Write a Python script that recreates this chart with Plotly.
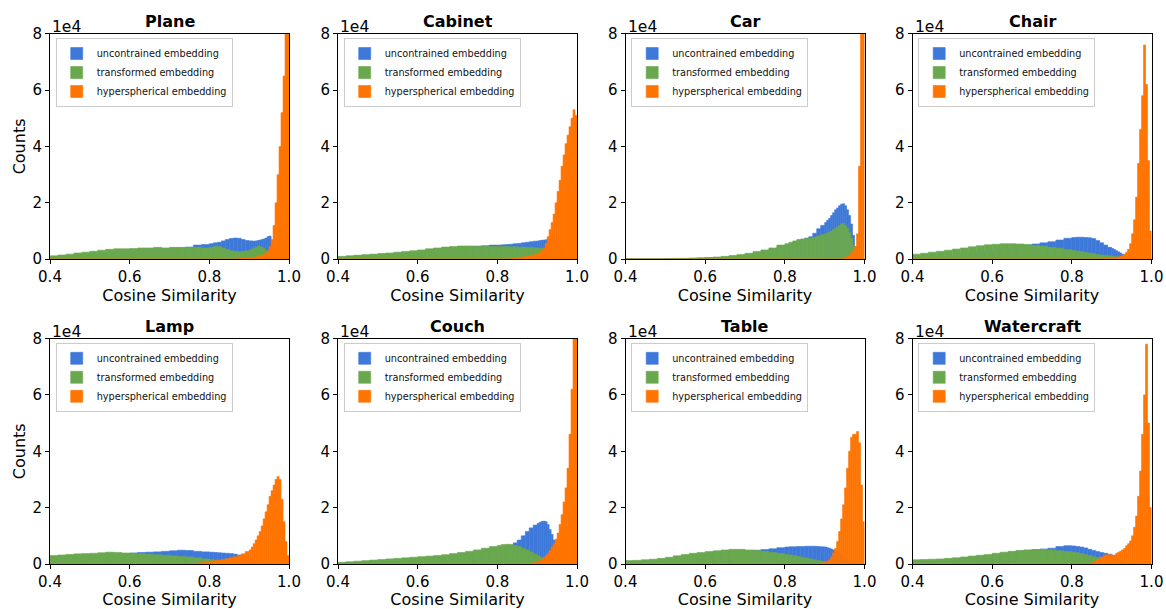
import numpy as np
import plotly.graph_objects as go

# Histogram bin edges (cosine similarity)
BIN_EDGES = [0.40, 0.42, 0.44, 0.46, 0.48, 0.50, 0.52, 0.54, 0.56, 0.58,
             0.60, 0.62, 0.64, 0.66, 0.68, 0.70, 0.72, 0.74, 0.76, 0.78,
             0.80, 0.81, 0.82, 0.83, 0.84, 0.85, 0.86, 0.87, 0.88, 0.89,
             0.90, 0.905, 0.91, 0.915, 0.92, 0.925, 0.93, 0.935, 0.94, 0.945,
             0.95, 0.955, 0.96, 0.965, 0.97, 0.975, 0.98, 0.985, 0.99, 0.995, 1.00]

CATEGORIES = ["Plane", "Cabinet", "Car", "Chair", "Lamp", "Couch", "Table", "Watercraft"]
SERIES_NAMES = ["uncontrained embedding", "transformed embedding", "hyperspherical embedding"]

# Counts in units of 1e4
PLANE_BLUE = [0.08, 0.10, 0.12, 0.15, 0.18, 0.20, 0.22, 0.25, 0.27, 0.30, 0.32, 0.33, 0.35, 0.36, 0.38, 0.39, 0.40, 0.43, 0.50, 0.52,
              0.55, 0.58, 0.60, 0.65, 0.70, 0.73, 0.75, 0.74, 0.70, 0.66,
              0.65, 0.65, 0.64, 0.65, 0.66, 0.68, 0.70, 0.72, 0.75, 0.80, 0.82, 0.60, 0.40, 0.30, 0.20, 0.10, 0.05, 0.02, 0.01, 0.00]
PLANE_GREEN = [0.12, 0.15, 0.18, 0.22, 0.25, 0.28, 0.32, 0.35, 0.37, 0.37, 0.38, 0.40, 0.40, 0.42, 0.40, 0.42, 0.42, 0.42, 0.42, 0.40,
               0.42, 0.45, 0.45, 0.40, 0.35, 0.30, 0.28, 0.27, 0.28, 0.30,
               0.33, 0.36, 0.40, 0.43, 0.45, 0.45, 0.42, 0.38, 0.30, 0.22, 0.15, 0.10, 0.07, 0.05, 0.03, 0.02, 0.01, 0.01, 0.00, 0.00]
PLANE_ORANGE = [0, 0, 0, 0, 0, 0, 0, 0, 0, 0, 0, 0, 0, 0, 0, 0, 0, 0, 0, 0,
                0, 0, 0, 0, 0, 0, 0.01, 0.02, 0.03, 0.04,
                0.05, 0.06, 0.07, 0.08, 0.10, 0.12, 0.15, 0.18, 0.22, 0.30, 0.45, 0.70, 1.20, 2.00, 3.00, 4.00, 5.20, 6.50, 8.50, 9.50]

CABINET_BLUE = [0.08, 0.10, 0.12, 0.14, 0.16, 0.18, 0.20, 0.22, 0.24, 0.27, 0.30, 0.33, 0.36, 0.39, 0.41, 0.43, 0.45, 0.46, 0.48, 0.50,
                0.50, 0.51, 0.52, 0.53, 0.55, 0.56, 0.58, 0.60, 0.62, 0.64,
                0.65, 0.66, 0.67, 0.68, 0.69, 0.70, 0.71, 0.72, 0.72, 0.70, 0.65, 0.55, 0.45, 0.35, 0.25, 0.15, 0.10, 0.05, 0.02, 0.00]
CABINET_GREEN = [0.10, 0.12, 0.14, 0.16, 0.18, 0.20, 0.22, 0.25, 0.27, 0.30, 0.33, 0.37, 0.40, 0.43, 0.45, 0.47, 0.47, 0.46, 0.45, 0.45,
                 0.45, 0.45, 0.45, 0.44, 0.44, 0.43, 0.43, 0.42, 0.42, 0.41,
                 0.40, 0.40, 0.39, 0.38, 0.37, 0.35, 0.33, 0.30, 0.27, 0.24, 0.20, 0.17, 0.14, 0.10, 0.08, 0.05, 0.03, 0.02, 0.01, 0.00]
CABINET_ORANGE = [0, 0, 0, 0, 0, 0, 0, 0, 0, 0, 0, 0, 0, 0, 0, 0, 0, 0, 0, 0,
                  0, 0, 0.01, 0.02, 0.04, 0.06, 0.08, 0.10, 0.13, 0.17,
                  0.20, 0.25, 0.30, 0.40, 0.55, 0.80, 1.05, 1.30, 1.60, 2.00, 2.40, 2.80, 3.30, 3.70, 4.10, 4.40, 4.70, 5.00, 5.30, 5.10]

CAR_BLUE = [0.01, 0.01, 0.01, 0.01, 0.01, 0.02, 0.02, 0.02, 0.03, 0.04, 0.05, 0.06, 0.08, 0.10, 0.13, 0.17, 0.22, 0.28, 0.35, 0.43,
            0.50, 0.55, 0.60, 0.65, 0.70, 0.75, 0.80, 0.92, 1.08, 1.20,
            1.30, 1.38, 1.45, 1.55, 1.65, 1.75, 1.82, 1.90, 1.95, 1.97, 1.90, 1.75, 1.55, 1.25, 0.85, 0.45, 0.15, 0.05, 0.02, 0.00]
CAR_GREEN = [0.02, 0.02, 0.02, 0.02, 0.02, 0.02, 0.03, 0.03, 0.04, 0.05, 0.06, 0.08, 0.10, 0.13, 0.17, 0.21, 0.27, 0.33, 0.40, 0.50,
             0.55, 0.60, 0.65, 0.70, 0.72, 0.73, 0.75, 0.78, 0.82, 0.87,
             0.90, 0.93, 0.97, 1.00, 1.05, 1.10, 1.15, 1.20, 1.25, 1.27, 1.20, 1.10, 0.95, 0.75, 0.50, 0.30, 0.12, 0.05, 0.02, 0.00]
CAR_ORANGE = [0, 0, 0, 0, 0, 0, 0, 0, 0, 0, 0, 0, 0, 0, 0, 0, 0, 0, 0, 0,
              0, 0, 0, 0, 0, 0, 0, 0, 0, 0,
              0, 0, 0, 0, 0, 0, 0, 0, 0.01, 0.02, 0.05, 0.10, 0.15, 0.20, 0.30, 0.45, 0.90, 3.30, 9.50, 9.50]

CHAIR_BLUE = [0.05, 0.06, 0.07, 0.09, 0.11, 0.13, 0.16, 0.19, 0.23, 0.27, 0.31, 0.36, 0.41, 0.45, 0.50, 0.54, 0.58, 0.62, 0.68, 0.74,
              0.77, 0.78, 0.78, 0.77, 0.76, 0.73, 0.66, 0.58, 0.50, 0.42,
              0.38, 0.34, 0.30, 0.26, 0.22, 0.18, 0.15, 0.12, 0.10, 0.08, 0.06, 0.04, 0.03, 0.02, 0.01, 0.00, 0.00, 0.00, 0.00, 0.00]
CHAIR_GREEN = [0.18, 0.21, 0.25, 0.28, 0.32, 0.36, 0.40, 0.44, 0.48, 0.51, 0.53, 0.55, 0.55, 0.54, 0.52, 0.49, 0.46, 0.42, 0.39, 0.34,
               0.31, 0.29, 0.27, 0.24, 0.22, 0.20, 0.17, 0.15, 0.14, 0.12,
               0.11, 0.10, 0.09, 0.08, 0.07, 0.06, 0.05, 0.04, 0.03, 0.02, 0.01, 0.01, 0.00, 0.00, 0.00, 0.00, 0.00, 0.00, 0.00, 0.00]
CHAIR_ORANGE = [0, 0, 0, 0, 0, 0, 0, 0, 0, 0, 0, 0, 0, 0, 0, 0, 0, 0, 0, 0,
                0, 0, 0, 0, 0, 0.005, 0.01, 0.01, 0.02, 0.02,
                0.03, 0.04, 0.06, 0.08, 0.10, 0.13, 0.18, 0.25, 0.35, 0.55, 0.90, 1.40, 2.20, 3.40, 4.60, 5.80, 7.60, 6.20, 3.50, 1.00]

LAMP_BLUE = [0.20, 0.22, 0.24, 0.26, 0.28, 0.30, 0.31, 0.33, 0.34, 0.36, 0.39, 0.41, 0.42, 0.43, 0.45, 0.47, 0.49, 0.48, 0.45, 0.43,
             0.42, 0.41, 0.40, 0.39, 0.38, 0.37, 0.35, 0.32, 0.28, 0.22,
             0.18, 0.14, 0.10, 0.07, 0.05, 0.03, 0.02, 0.01, 0.00, 0.00, 0.00, 0.00, 0.00, 0.00, 0.00, 0.00, 0.00, 0.00, 0.00, 0.00]
LAMP_GREEN = [0.30, 0.32, 0.34, 0.36, 0.37, 0.38, 0.40, 0.42, 0.41, 0.39, 0.38, 0.37, 0.35, 0.33, 0.31, 0.29, 0.27, 0.25, 0.22, 0.18,
              0.16, 0.14, 0.12, 0.10, 0.08, 0.07, 0.05, 0.04, 0.03, 0.02,
              0.02, 0.01, 0.01, 0.01, 0.00, 0.00, 0.00, 0.00, 0.00, 0.00, 0.00, 0.00, 0.00, 0.00, 0.00, 0.00, 0.00, 0.00, 0.00, 0.00]
LAMP_ORANGE = [0, 0, 0, 0, 0, 0, 0, 0, 0, 0, 0, 0, 0, 0, 0, 0, 0, 0, 0.03, 0.07,
               0.10, 0.12, 0.14, 0.16, 0.19, 0.22, 0.26, 0.30, 0.36, 0.44,
               0.50, 0.60, 0.72, 0.85, 1.00, 1.15, 1.35, 1.60, 1.85, 2.10, 2.40, 2.60, 2.80, 3.00, 3.10, 3.00, 2.30, 1.50, 0.80, 0.30]

COUCH_BLUE = [0.03, 0.04, 0.05, 0.06, 0.07, 0.08, 0.10, 0.11, 0.13, 0.15, 0.17, 0.19, 0.22, 0.25, 0.28, 0.32, 0.36, 0.41, 0.46, 0.52,
              0.55, 0.58, 0.62, 0.67, 0.75, 0.85, 1.00, 1.15, 1.28, 1.38,
              1.44, 1.48, 1.51, 1.52, 1.50, 1.40, 1.22, 1.05, 0.85, 0.68, 0.50, 0.35, 0.22, 0.12, 0.06, 0.03, 0.01, 0.00, 0.00, 0.00]
COUCH_GREEN = [0.06, 0.08, 0.10, 0.12, 0.14, 0.16, 0.18, 0.20, 0.22, 0.24, 0.26, 0.28, 0.30, 0.33, 0.37, 0.41, 0.45, 0.50, 0.56, 0.62,
               0.66, 0.69, 0.70, 0.69, 0.66, 0.62, 0.56, 0.50, 0.43, 0.35,
               0.30, 0.26, 0.22, 0.18, 0.15, 0.12, 0.10, 0.08, 0.06, 0.05, 0.04, 0.03, 0.02, 0.01, 0.00, 0.00, 0.00, 0.00, 0.00, 0.00]
COUCH_ORANGE = [0, 0, 0, 0, 0, 0, 0, 0, 0, 0, 0, 0, 0, 0, 0, 0, 0, 0, 0, 0,
                0, 0, 0, 0, 0, 0, 0.01, 0.02, 0.03, 0.05,
                0.08, 0.12, 0.17, 0.23, 0.30, 0.38, 0.48, 0.60, 0.72, 0.88, 1.10, 1.40, 1.75, 2.20, 2.70, 3.40, 4.60, 6.20, 8.50, 9.50]

TABLE_BLUE = [0.05, 0.06, 0.07, 0.09, 0.11, 0.14, 0.17, 0.21, 0.25, 0.29, 0.33, 0.37, 0.40, 0.43, 0.45, 0.47, 0.49, 0.51, 0.54, 0.58,
              0.60, 0.61, 0.61, 0.62, 0.62, 0.63, 0.63, 0.63, 0.62, 0.61,
              0.60, 0.58, 0.56, 0.53, 0.50, 0.45, 0.40, 0.34, 0.28, 0.22, 0.16, 0.11, 0.07, 0.04, 0.02, 0.01, 0.00, 0.00, 0.00, 0.00]
TABLE_GREEN = [0.12, 0.13, 0.15, 0.17, 0.20, 0.24, 0.29, 0.34, 0.38, 0.41, 0.44, 0.47, 0.50, 0.52, 0.52, 0.50, 0.48, 0.45, 0.41, 0.37,
               0.34, 0.32, 0.30, 0.27, 0.24, 0.21, 0.18, 0.15, 0.12, 0.10,
               0.08, 0.07, 0.06, 0.05, 0.04, 0.03, 0.02, 0.02, 0.01, 0.01, 0.00, 0.00, 0.00, 0.00, 0.00, 0.00, 0.00, 0.00, 0.00, 0.00]
TABLE_ORANGE = [0, 0, 0, 0, 0, 0, 0, 0, 0, 0, 0, 0, 0, 0, 0, 0, 0, 0, 0, 0,
                0, 0, 0, 0, 0, 0, 0, 0.01, 0.02, 0.04,
                0.07, 0.10, 0.15, 0.25, 0.40, 0.55, 0.80, 1.15, 1.60, 2.10, 2.70, 3.40, 4.00, 4.50, 4.60, 4.60, 4.70, 4.30, 2.80, 1.50]

WATERCRAFT_BLUE = [0.08, 0.09, 0.10, 0.11, 0.13, 0.15, 0.18, 0.21, 0.25, 0.29, 0.33, 0.38, 0.42, 0.46, 0.49, 0.51, 0.53, 0.56, 0.62, 0.65,
                   0.64, 0.62, 0.60, 0.57, 0.52, 0.48, 0.44, 0.41, 0.38, 0.35,
                   0.32, 0.28, 0.24, 0.20, 0.16, 0.12, 0.09, 0.06, 0.04, 0.02, 0.01, 0.00, 0.00, 0.00, 0.00, 0.00, 0.00, 0.00, 0.00, 0.00]
WATERCRAFT_GREEN = [0.15, 0.16, 0.17, 0.18, 0.20, 0.22, 0.25, 0.28, 0.31, 0.34, 0.38, 0.42, 0.45, 0.48, 0.50, 0.51, 0.52, 0.50, 0.47, 0.44,
                    0.42, 0.40, 0.37, 0.34, 0.30, 0.26, 0.22, 0.18, 0.14, 0.10,
                    0.08, 0.06, 0.05, 0.04, 0.03, 0.02, 0.02, 0.01, 0.01, 0.00, 0.00, 0.00, 0.00, 0.00, 0.00, 0.00, 0.00, 0.00, 0.00, 0.00]
WATERCRAFT_ORANGE = [0, 0, 0, 0, 0, 0, 0, 0, 0, 0, 0, 0, 0, 0, 0, 0, 0, 0, 0, 0,
                     0, 0, 0, 0, 0.01, 0.05, 0.15, 0.25, 0.32, 0.33,
                     0.30, 0.32, 0.38, 0.42, 0.45, 0.50, 0.55, 0.65, 0.72, 0.82, 1.00, 1.30, 1.70, 2.40, 3.30, 4.60, 6.00, 7.80, 5.00, 2.00]

PANEL_SERIES = [
    (PLANE_BLUE, PLANE_GREEN, PLANE_ORANGE),
    (CABINET_BLUE, CABINET_GREEN, CABINET_ORANGE),
    (CAR_BLUE, CAR_GREEN, CAR_ORANGE),
    (CHAIR_BLUE, CHAIR_GREEN, CHAIR_ORANGE),
    (LAMP_BLUE, LAMP_GREEN, LAMP_ORANGE),
    (COUCH_BLUE, COUCH_GREEN, COUCH_ORANGE),
    (TABLE_BLUE, TABLE_GREEN, TABLE_ORANGE),
    (WATERCRAFT_BLUE, WATERCRAFT_GREEN, WATERCRAFT_ORANGE),
]

X_TICKS = [0.4, 0.6, 0.8, 1.0]
X_TICK_TEXT = ["0.4", "0.6", "0.8", "1.0"]
Y_TICKS = [0, 2, 4, 6, 8]
Y_TICK_TEXT = ["0", "2", "4", "6", "8"]

# ---- styling / layout ----
COLORS = ["#3e79d9", "#6aa84f", "#ff7400"]
FONT = "DejaVu Sans"
W, H = 1166, 609
COL_LEFT = [50, 338, 625.5, 912.5]
ROW_TOP = [33.7, 338.5]
PW, PH = 239, 225.5

edges = np.array(BIN_EDGES)
left_edges = edges[:-1]
widths = np.diff(edges)

fig = go.Figure()
layout = dict(
    template="none",
    width=W, height=H,
    margin=dict(l=0, r=0, t=0, b=0, autoexpand=False),
    paper_bgcolor="white", plot_bgcolor="white",
    barmode="overlay",
    font=dict(family=FONT, color="black"),
    annotations=[],
)

for i, (cat, series) in enumerate(zip(CATEGORIES, PANEL_SERIES)):
    r, c = divmod(i, 4)
    n = i + 1
    suffix = "" if n == 1 else str(n)
    left, top = COL_LEFT[c], ROW_TOP[r]
    x0, x1 = left / W, (left + PW) / W
    y1, y0 = 1 - top / H, 1 - (top + PH) / H
    leg_name = "legend" + suffix

    for name, vals, col in zip(SERIES_NAMES, series, COLORS):
        fig.add_trace(go.Bar(
            x=left_edges, y=vals, width=widths, offset=0,
            marker=dict(color=col, line=dict(width=0.6, color=col)),
            name=name, legend=leg_name,
            xaxis="x" + suffix, yaxis="y" + suffix,
            hovertemplate="%{x:.3f}: %{y}e4<extra></extra>",
        ))

    axis_common = dict(
        automargin=False,
        showline=True, mirror=True, linecolor="black", linewidth=1,
        ticks="outside", ticklen=4, tickwidth=1, tickcolor="black",
        showgrid=False, zeroline=False, tickfont=dict(size=15, family=FONT),
        ticklabeloverflow="allow",
    )
    layout["xaxis" + suffix] = dict(
        axis_common, domain=[x0, x1], anchor="y" + suffix, range=[0.4, 1.0],
        tickvals=X_TICKS, ticktext=X_TICK_TEXT,
        title=dict(text="Cosine Similarity", font=dict(size=16, family=FONT), standoff=3),
    )
    ydict = dict(
        axis_common, domain=[y0, y1], anchor="x" + suffix, range=[0, 8],
        tickvals=Y_TICKS, ticktext=Y_TICK_TEXT,
    )
    if c == 0:
        ydict["title"] = dict(text="Counts", font=dict(size=16, family=FONT), standoff=2)
    layout["yaxis" + suffix] = ydict

    layout[leg_name] = dict(
        x=(left + 5.7) / W, y=1 - (top + 4.3) / H, xanchor="left", yanchor="top",
        xref="paper", yref="paper",
        bgcolor="rgba(255,255,255,0.8)", bordercolor="#cccccc", borderwidth=1,
        font=dict(size=9.7, family=FONT, color="#111111"),
        tracegroupgap=0, itemwidth=30,
    )

    layout["annotations"].append(dict(
        text="<b>%s</b>" % cat, x=(x0 + x1) / 2, y=y1, xref="paper", yref="paper",
        xanchor="center", yanchor="bottom", yshift=0.5, showarrow=False,
        font=dict(size=16, family=FONT, color="black"),
    ))
    layout["annotations"].append(dict(
        text="1e4", x=x0, y=y1, xref="paper", yref="paper",
        xanchor="left", yanchor="bottom", yshift=-4, showarrow=False,
        font=dict(size=15.5, family=FONT, color="black"),
    ))

fig.update_layout(**layout)
fig.write_html(
    "out.html",
    config={"displayModeBar": False},
    post_script="document.body.style.margin='0px'; document.body.style.overflow='hidden';",
)
